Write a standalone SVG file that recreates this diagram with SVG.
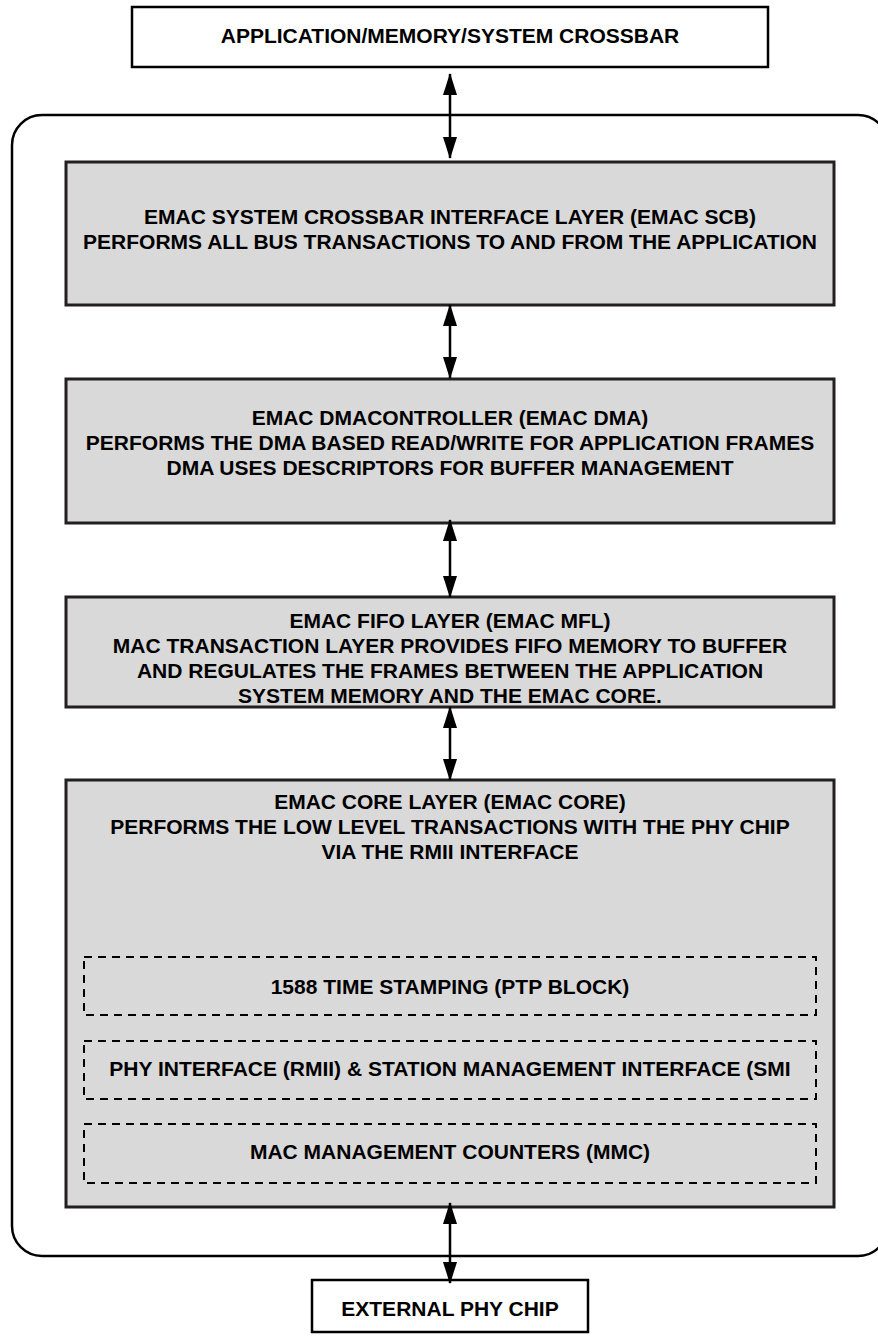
<svg xmlns="http://www.w3.org/2000/svg" width="878" height="1336" viewBox="0 0 878 1336">
<defs>
<style>
.t{font-family:"Liberation Sans",Arial,sans-serif;font-weight:bold;font-size:21px;fill:#000;text-anchor:middle}
.wb{fill:#fff;stroke:#000;stroke-width:2.5}
.gb{fill:#d9d9d9;stroke:#231f20;stroke-width:3}
.db{fill:none;stroke:#000;stroke-width:2;stroke-dasharray:8 6}
.c{stroke:#000;stroke-width:2.5;fill:none;marker-start:url(#ah);marker-end:url(#ah)}
</style>
<marker id="ah" viewBox="0 0 22 14" refX="21" refY="7" markerWidth="22" markerHeight="14" markerUnits="userSpaceOnUse" orient="auto-start-reverse">
<path d="M0,0 L22,7 L0,14 Z" fill="#000"/>
</marker>
</defs>
<rect id="outer" x="12" y="115" width="876" height="1141" rx="30" ry="30" fill="none" stroke="#000" stroke-width="2.5"/>
<g id="crossbar">
<rect class="wb" x="132" y="7" width="636" height="60"/>
<text class="t" x="450" y="43">APPLICATION/MEMORY/SYSTEM CROSSBAR</text>
</g>
<g id="scb">
<rect class="gb" x="66" y="162" width="768" height="143"/>
<text class="t" x="450" y="224">EMAC SYSTEM CROSSBAR INTERFACE LAYER (EMAC SCB)</text>
<text class="t" x="450" y="249">PERFORMS ALL BUS TRANSACTIONS TO AND FROM THE APPLICATION</text>
</g>
<g id="dma">
<rect class="gb" x="66" y="379" width="768" height="144"/>
<text class="t" x="450" y="425">EMAC DMACONTROLLER (EMAC DMA)</text>
<text class="t" x="450" y="450">PERFORMS THE DMA BASED READ/WRITE FOR APPLICATION FRAMES</text>
<text class="t" x="450" y="475">DMA USES DESCRIPTORS FOR BUFFER MANAGEMENT</text>
</g>
<g id="fifo">
<rect class="gb" x="66" y="597" width="768" height="110"/>
<text class="t" x="450" y="628">EMAC FIFO LAYER (EMAC MFL)</text>
<text class="t" x="450" y="653">MAC TRANSACTION LAYER PROVIDES FIFO MEMORY TO BUFFER</text>
<text class="t" x="450" y="678">AND REGULATES THE FRAMES BETWEEN THE APPLICATION</text>
<text class="t" x="450" y="703">SYSTEM MEMORY AND THE EMAC CORE.</text>
</g>
<g id="core">
<rect class="gb" x="66" y="780" width="768" height="427"/>
<text class="t" x="450" y="809">EMAC CORE LAYER (EMAC CORE)</text>
<text class="t" x="450" y="834">PERFORMS THE LOW LEVEL TRANSACTIONS WITH THE PHY CHIP</text>
<text class="t" x="450" y="859">VIA THE RMII INTERFACE</text>
</g>
<g id="ptp">
<rect class="db" x="84" y="957" width="732" height="58"/>
<text class="t" x="450" y="994">1588 TIME STAMPING (PTP BLOCK)</text>
</g>
<g id="rmii">
<rect class="db" x="84" y="1041" width="732" height="58"/>
<text class="t" x="450" y="1076">PHY INTERFACE (RMII) &amp; STATION MANAGEMENT INTERFACE (SMI</text>
</g>
<g id="mmc">
<rect class="db" x="84" y="1124" width="732" height="59"/>
<text class="t" x="450" y="1159">MAC MANAGEMENT COUNTERS (MMC)</text>
</g>
<g id="phy">
<rect class="wb" x="312" y="1280" width="276" height="52"/>
<text class="t" x="450" y="1316">EXTERNAL PHY CHIP</text>
</g>
<g id="connectors">
<line class="c" x1="450" y1="74" x2="450" y2="158"/>
<line class="c" x1="450" y1="305" x2="450" y2="378"/>
<line class="c" x1="450" y1="520" x2="450" y2="597"/>
<line class="c" x1="450" y1="707" x2="450" y2="780"/>
<line class="c" x1="450" y1="1203" x2="450" y2="1283"/>
</g>
</svg>
